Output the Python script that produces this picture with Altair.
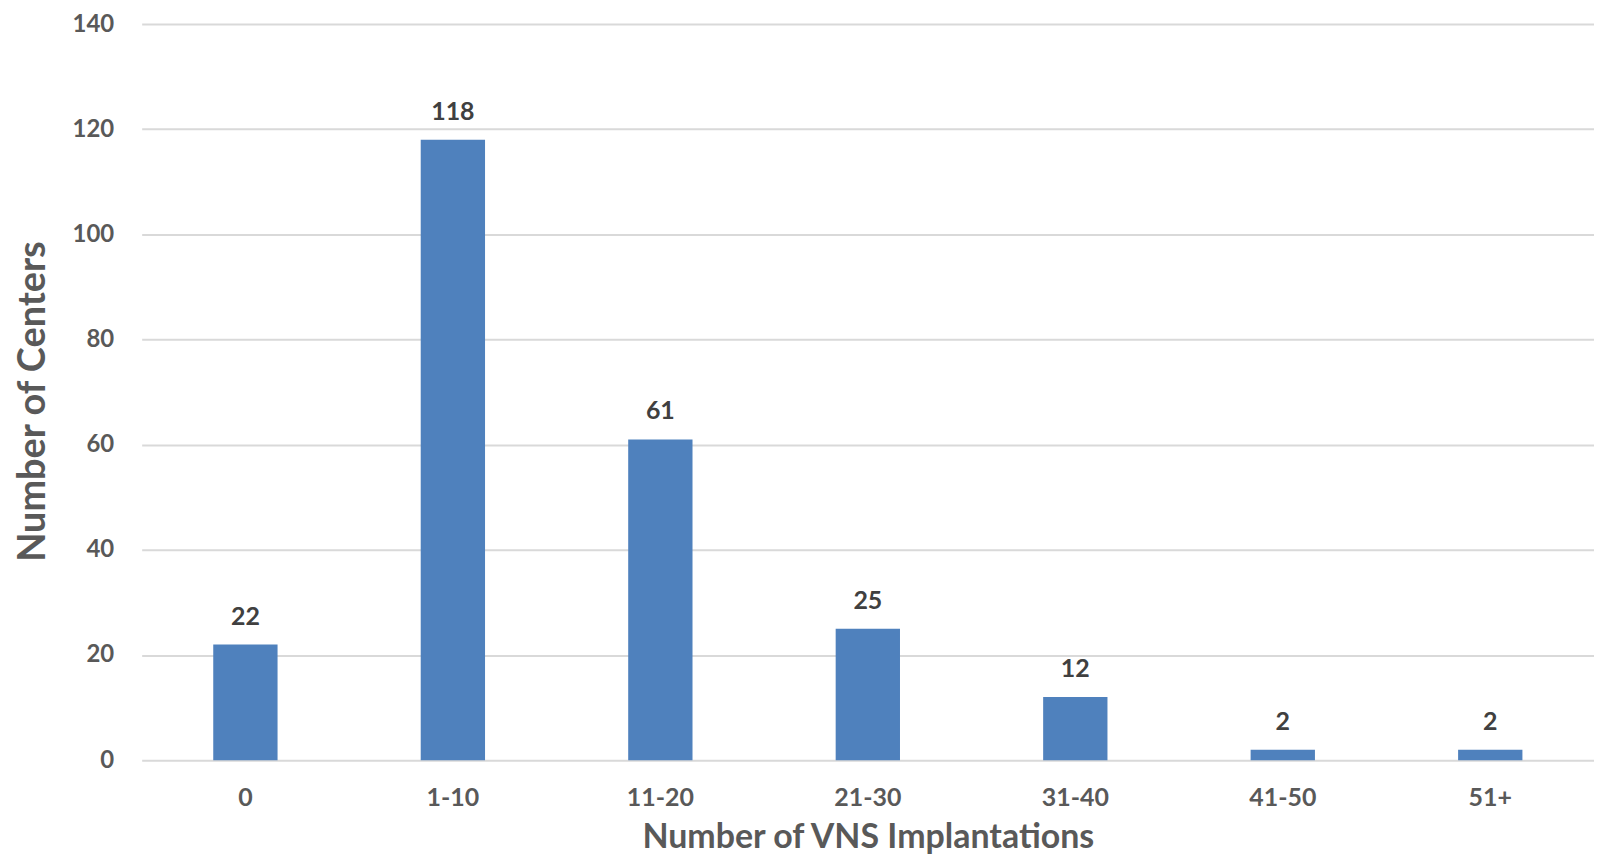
import altair as alt
import pandas as pd

categories = ["0", "1-10", "11-20", "21-30", "31-40", "41-50", "51+"]
centers = [22, 118, 61, 25, 12, 2, 2]

df = pd.DataFrame({"cat": categories, "val": centers})

FONT = "Lato"
x_enc = alt.X(
    "cat:N",
    sort=categories,
    scale=alt.Scale(paddingInner=0.69, paddingOuter=0.345),
    axis=alt.Axis(
        title="Number of VNS Implantations",
        labelAngle=0,
        labelFont=FONT,
        labelFontSize=25,
        labelFontWeight="bold",
        labelColor="#595959",
        labelPadding=25,
        ticks=False,
        domain=False,
        titleFont=FONT,
        titleFontSize=34,
        titleFontWeight="bold",
        titleColor="#595959",
        titlePadding=11,
    ),
)
y_enc = alt.Y(
    "val:Q",
    scale=alt.Scale(domain=[0, 140]),
    axis=alt.Axis(
        title="Number of Centers",
        values=[0, 20, 40, 60, 80, 100, 120, 140],
        labelFont=FONT,
        labelFontSize=24,
        labelFontWeight="bold",
        labelColor="#595959",
        labelPadding=28,
        ticks=False,
        domain=False,
        grid=True,
        gridColor="#D9D9D9",
        gridWidth=2,
        titleFont=FONT,
        titleFontSize=38,
        titleFontWeight="bold",
        titleColor="#595959",
        titlePadding=20,
        titleY=378,
    ),
)

bars = alt.Chart(df).mark_bar(color="#4F81BD").encode(x=x_enc, y=y_enc)
labels = alt.Chart(df).mark_text(
    font=FONT, fontSize=25, fontWeight="bold", color="#404040", baseline="bottom", dy=-15
).encode(x=alt.X("cat:N", sort=categories), y="val:Q", text="val:Q")

chart = (
    alt.layer(bars, labels)
    .properties(
        width=1456,
        height=738,
        autosize=alt.AutoSizeParams(type="none"),
        padding={"left": 134, "top": 15, "right": 0, "bottom": 96},
    )
    .configure_view(stroke=None)
)

chart.save("out.html", embed_options={"renderer": "svg", "actions": False})
